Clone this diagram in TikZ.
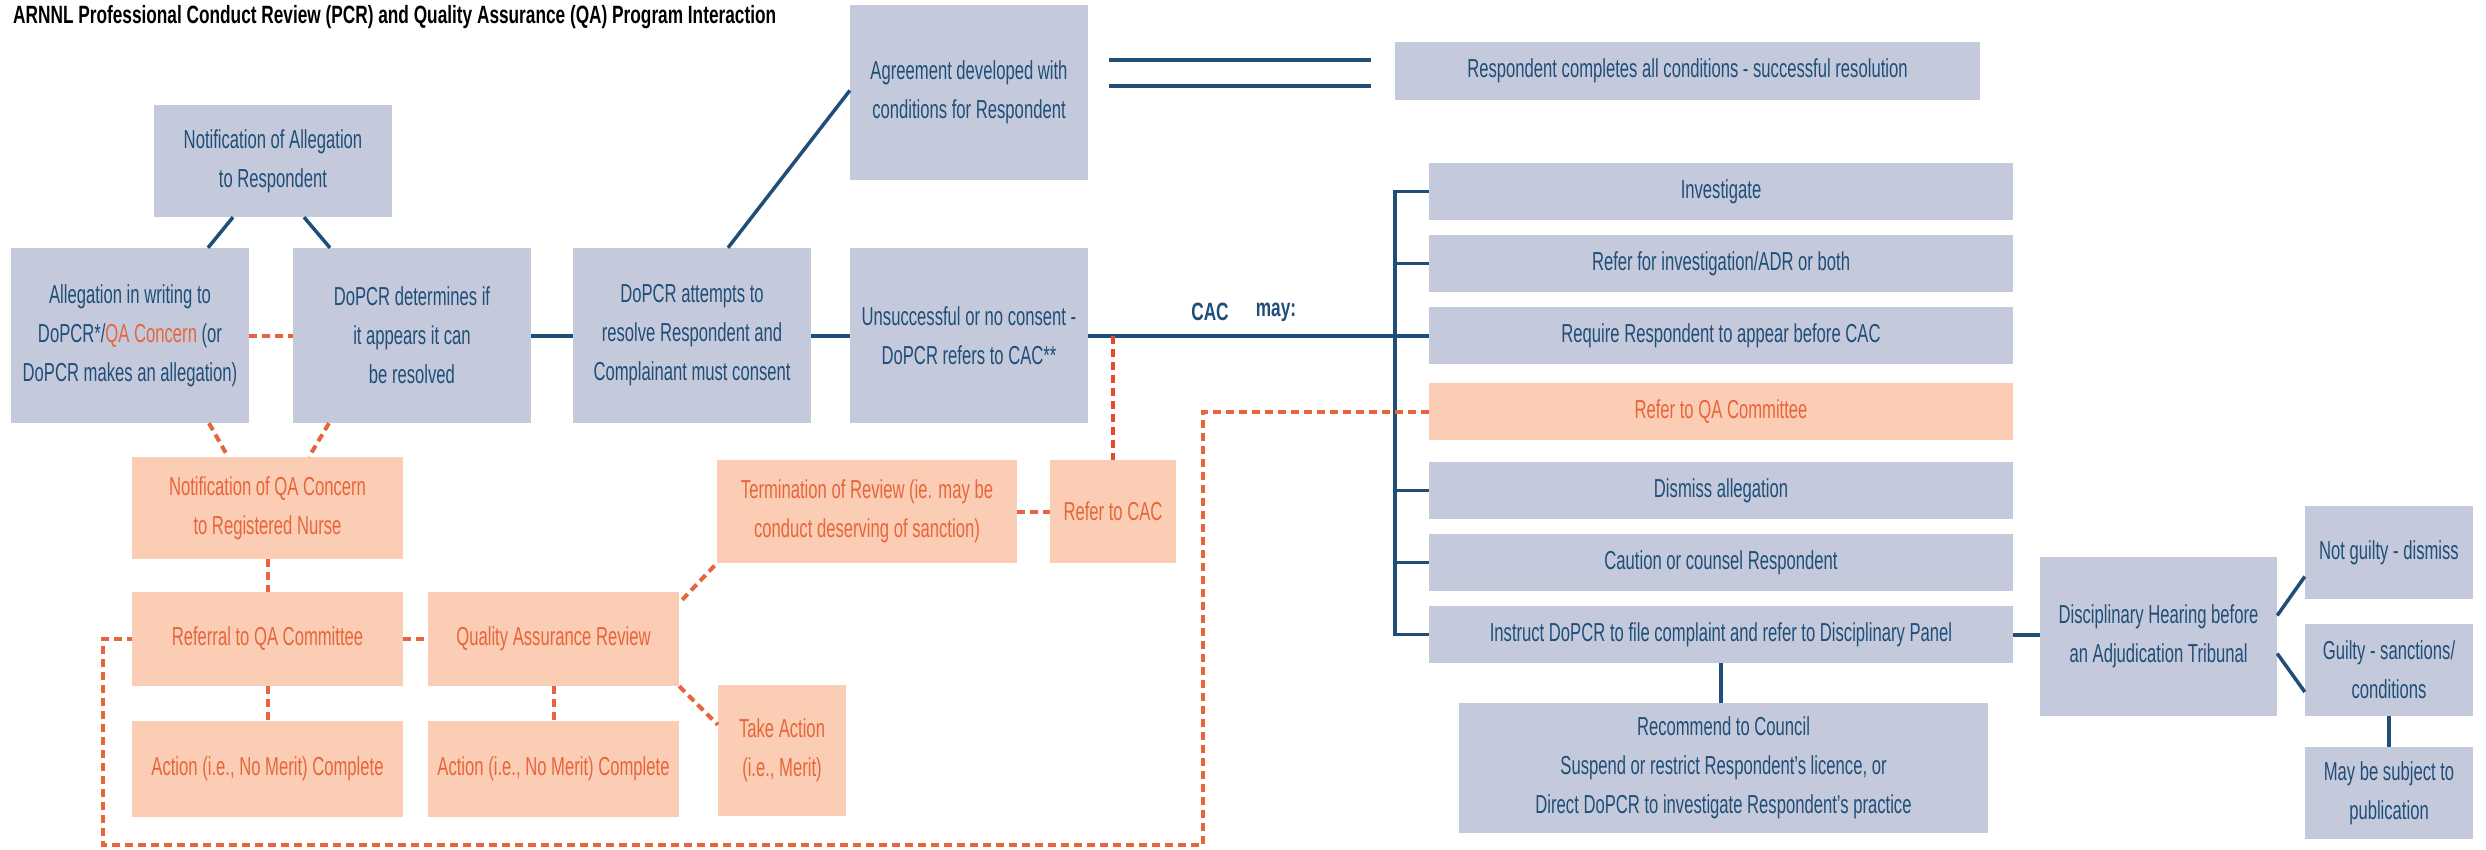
\documentclass[tikz,border=0pt]{standalone}
\usepackage{fontspec}
\usepackage{xcolor}
\usetikzlibrary{calc}
\newfontfamily\nar[FakeStretch=0.64]{Liberation Sans}
\newfontfamily\titlefont[FakeStretch=0.69]{Liberation Sans}
\definecolor{boxblue}{HTML}{C4CADB}
\definecolor{txtblue}{HTML}{1F4E78}
\definecolor{linblue}{HTML}{1F4E78}
\definecolor{boxor}{HTML}{FBCDB4}
\definecolor{txtor}{HTML}{E8653A}
\definecolor{lnor}{HTML}{E8643A}
\definecolor{lnred}{HTML}{E84A30}
\tikzset{
  bb/.style={fill=boxblue, text=txtblue, inner sep=0pt, align=center, font=\nar\fontsize{26}{39}\selectfont},
  ob/.style={fill=boxor, text=txtor, inner sep=0pt, align=center, font=\nar\fontsize{26}{39}\selectfont},
  conn/.style={draw=linblue, line width=3.5pt},
  mainconn/.style={draw=linblue, line width=4pt},
  dconn/.style={draw=lnor, line width=4pt, dash pattern=on 8pt off 5pt},
  rconn/.style={draw=lnred, line width=3.5pt, dash pattern=on 8pt off 5pt},
}
\begin{document}
\begin{tikzpicture}[x=1pt,y=-1pt]
\useasboundingbox (0,0) rectangle (2486,849);
\fill[white] (0,0) rectangle (2486,849);

\node[anchor=west, inner sep=0pt, font=\titlefont\bfseries\fontsize{25}{30}\selectfont, text=black] (title) at (13,17) {ARNNL Professional Conduct Review (PCR) and Quality Assurance (QA) Program Interaction};

% blue boxes left
\node[bb, minimum width=238pt, minimum height=112pt] (notif) at (273,161) {Notification of Allegation\\to Respondent};
\node[bb, minimum width=238pt, minimum height=175pt] (alleg) at (130,335.5) {Allegation in writing to\\DoPCR*/\textcolor{txtor}{QA Concern} (or\\DoPCR makes an allegation)};
\node[bb, minimum width=238pt, minimum height=175pt] (deter) at (412,335.5) {DoPCR determines if\\it appears it can\\be resolved};
\node[bb, minimum width=238pt, minimum height=175pt] (attempt) at (692,335.5) {DoPCR attempts to\\resolve Respondent and\\Complainant must consent};
\node[bb, minimum width=238pt, minimum height=175pt] (agree) at (969,92.5) {Agreement developed with\\conditions for Respondent};
\node[bb, minimum width=238pt, minimum height=175pt] (unsucc) at (969,335.5) {Unsuccessful or no consent -\\DoPCR refers to CAC**};
\node[bb, minimum width=585pt, minimum height=58pt] (resp) at (1687.5,71) {Respondent completes all conditions - successful resolution};

% CAC list
\node[bb, minimum width=584pt, minimum height=57pt] (inv) at (1721,191.5) {Investigate};
\node[bb, minimum width=584pt, minimum height=57pt] (refinv) at (1721,263.5) {Refer for investigation/ADR or both};
\node[bb, minimum width=584pt, minimum height=57pt] (req) at (1721,335.5) {Require Respondent to appear before CAC};
\node[ob, minimum width=584pt, minimum height=57pt] (rqac) at (1721,411.5) {Refer to QA Committee};
\node[bb, minimum width=584pt, minimum height=57pt] (dism) at (1721,490.5) {Dismiss allegation};
\node[bb, minimum width=584pt, minimum height=57pt] (caut) at (1721,562.5) {Caution or counsel Respondent};
\node[bb, minimum width=584pt, minimum height=57pt] (instr) at (1721,634.5) {Instruct DoPCR to file complaint and refer to Disciplinary Panel};
\node[bb, minimum width=529pt, minimum height=130pt] (rec) at (1723.5,768) {Recommend to Council\\Suspend or restrict Respondent’s licence, or\\Direct DoPCR to investigate Respondent’s practice};
\node[bb, minimum width=237pt, minimum height=159pt] (disc) at (2158.5,636.5) {Disciplinary Hearing before\\an Adjudication Tribunal};
\node[bb, minimum width=168pt, minimum height=93pt] (notg) at (2389,552.5) {Not guilty - dismiss};
\node[bb, minimum width=168pt, minimum height=92pt] (guilty) at (2389,670) {Guilty - sanctions/\\conditions};
\node[bb, minimum width=168pt, minimum height=92pt] (pub) at (2389,793) {May be subject to\\publication};

% orange boxes
\node[ob, minimum width=271pt, minimum height=102pt] (notqa) at (267.5,508) {Notification of QA Concern\\to Registered Nurse};
\node[ob, minimum width=271pt, minimum height=94pt] (refqa) at (267.5,639) {Referral to QA Committee};
\node[ob, minimum width=271pt, minimum height=96pt] (act1) at (267.5,769) {Action (i.e., No Merit) Complete};
\node[ob, minimum width=251pt, minimum height=94pt] (qar) at (553.5,639) {Quality Assurance Review};
\node[ob, minimum width=251pt, minimum height=96pt] (act2) at (553.5,769) {Action (i.e., No Merit) Complete};
\node[ob, minimum width=128pt, minimum height=131pt] (take) at (782,750.5) {Take Action\\(i.e., Merit)};
\node[ob, minimum width=300pt, minimum height=103pt] (term) at (867,511.5) {Termination of Review (ie. may be\\conduct deserving of sanction)};
\node[ob, minimum width=126pt, minimum height=103pt] (refcac) at (1113,511.5) {Refer to CAC};

% CAC may label
\node[inner sep=0pt, text=txtblue, font=\titlefont\bfseries\fontsize{25}{30}\selectfont] (cac) at (1210,312) {CAC};
\node[inner sep=0pt, text=txtblue, font=\titlefont\bfseries\fontsize{25}{30}\selectfont] (may) at (1276,312) {may:};

% blue connectors
\draw[conn] ([xshift=-40pt]notif.south) -- ([xshift=78pt]alleg.north);
\draw[conn] ([xshift=31pt]notif.south) -- ([xshift=-82pt]deter.north);
\draw[mainconn] (deter.east) -- (attempt.west);
\draw[conn] ([xshift=36pt]attempt.north) -- ([yshift=2pt]agree.west);
\draw[mainconn] (attempt.east) -- (unsucc.west);
\coordinate (d1a) at (1109,60); \coordinate (d1b) at (1371,60);
\coordinate (d2a) at (1109,86); \coordinate (d2b) at (1371,86);
\draw[mainconn] (d1a) -- (d1b);
\draw[mainconn] (d2a) -- (d2b);
\draw[mainconn] (unsucc.east) -- (req.west);
\draw[conn] (inv.west) -- ++(-34,0) |- (instr.west);
\draw[conn] (refinv.west) -- ++(-34,0);
\draw[conn] (dism.west) -- ++(-34,0);
\draw[conn] (caut.west) -- ++(-34,0);
\draw[mainconn] (instr.east) -- (instr.east -| disc.west);
\draw[conn] (instr.south) -- (instr.south |- rec.north);
\draw[conn] ($(disc.east)+(0,-21)$) -- ($(notg.west)+(0,24)$);
\draw[conn] ($(disc.east)+(0,17)$) -- ($(guilty.west)+(0,22)$);
\draw[conn] (guilty.south) -- (pub.north);

% orange dashed connectors
\draw[dconn] (alleg.east) -- (deter.west);
\draw[dconn] ([xshift=79pt]alleg.south) -- ([xshift=-39.5pt]notqa.north);
\draw[dconn] ([xshift=-83pt]deter.south) -- ([xshift=41.5pt]notqa.north);
\draw[dconn] (notqa.south) -- (refqa.north);
\draw[dconn] (refqa.south) -- (act1.north);
\draw[dconn] (refqa.east) -- (qar.west);
\draw[dconn] (qar.south) -- (act2.north);
\draw[dconn] ($(qar.north east)+(3,8)$) -- (term.south west);
\draw[dconn] (qar.south east) -- ($(take.north west)+(0,40)$);
\draw[dconn] (term.east) -- (refcac.west);
\draw[rconn] (refcac.north |- unsucc.east) -- (refcac.north);
\coordinate (qbend) at (1203,845);
\coordinate (qleft) at (103,845);
\draw[dconn] (rqac.west) -| (qbend) -- (qleft) |- (refqa.west);
\end{tikzpicture}
\end{document}
